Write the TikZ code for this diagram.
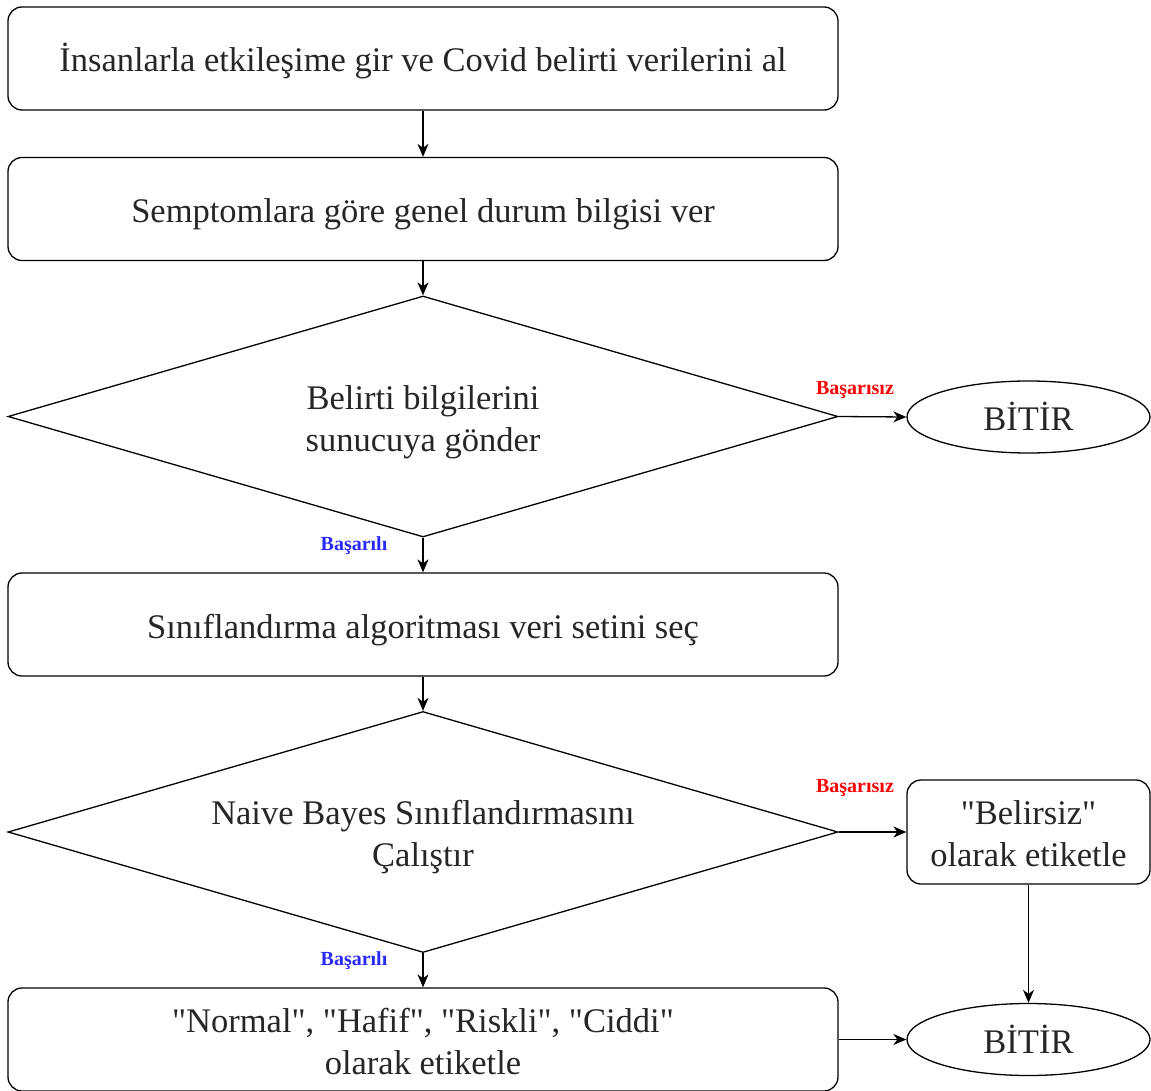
\documentclass[tikz,border=0pt]{standalone}
\usepackage{fontspec}
\setmainfont{Liberation Serif}
\usetikzlibrary{shapes.geometric,arrows.meta}
\begin{document}
\begin{tikzpicture}[x=1pt,y=-1pt,
  every node/.style={font=\rmfamily\fontsize{34.5}{42}\selectfont, text=black!85, align=center},
  one/.style={text height=34pt, text depth=7pt},
  two/.style={text height=76pt, text depth=7pt},
  proc/.style={draw, rounded corners=14pt, line width=1.3pt, minimum width=830pt, minimum height=103pt, inner sep=0pt},
  smallproc/.style={draw, rounded corners=14pt, line width=1.3pt, minimum width=243pt, minimum height=104pt, inner sep=0pt},
  dec/.style={draw, diamond, aspect=3.44, line width=1.3pt, minimum width=830pt, minimum height=241pt, inner sep=0pt},
  term/.style={draw, ellipse, line width=1.3pt, minimum width=243pt, minimum height=72pt, inner sep=0pt},
  conn/.style={line width=1.3pt, -{Stealth[length=13pt,width=11pt,inset=4pt]}},
  fail/.style={font=\rmfamily\bfseries\fontsize{20}{22}\selectfont, text=red},
  ok/.style={font=\rmfamily\bfseries\fontsize{20}{22}\selectfont, text={rgb,255:red,40;green,40;blue,255}}
]
\useasboundingbox (0,0) rectangle (1151,1091);
\node[proc,one] (b1) at (423,58.5) {İnsanlarla etkileşime gir ve Covid belirti verilerini al};
\node[proc,one] (b2) at (423,209) {Semptomlara göre genel durum bilgisi ver};
\node[dec,two] (d1) at (423,416.5) {Belirti bilgilerini\\sunucuya gönder};
\node[term,one] (e1) at (1028.5,417) {BİTİR};
\node[proc,one] (b3) at (423,624.5) {Sınıflandırma algoritması veri setini seç};
\node[dec,two] (d2) at (423,832) {Naive Bayes Sınıflandırmasını\\Çalıştır};
\node[smallproc,two] (b4) at (1028.5,832) {\textquotedbl Belirsiz\textquotedbl\\olarak etiketle};
\node[proc,two] (b5) at (423,1039.5) {\textquotedbl Normal\textquotedbl, \textquotedbl Hafif\textquotedbl, \textquotedbl Riskli\textquotedbl, \textquotedbl Ciddi\textquotedbl\\olarak etiketle};
\node[term,one] (e2) at (1028.5,1039.5) {BİTİR};

\draw[conn] (b1) -- (b2);
\draw[conn] (b2) -- (d1.north);
\draw[conn] (d1.east) -- (e1.west);
\draw[conn] (d1.south) -- (b3);
\draw[conn] (b3) -- (d2.north);
\draw[conn] (d2.east) -- (b4.west);
\draw[conn] (d2.south) -- (b5);
\draw[conn] (b4) -- (e2);
\draw[conn] (b5.east) -- (e2.west);

\node[fail] (l1) at (855,390) {Başarısız};
\node[fail] (l2) at (855,788) {Başarısız};
\node[ok] (l3) at (354,546) {Başarılı};
\node[ok] (l4) at (354,961) {Başarılı};
\end{tikzpicture}
\end{document}
